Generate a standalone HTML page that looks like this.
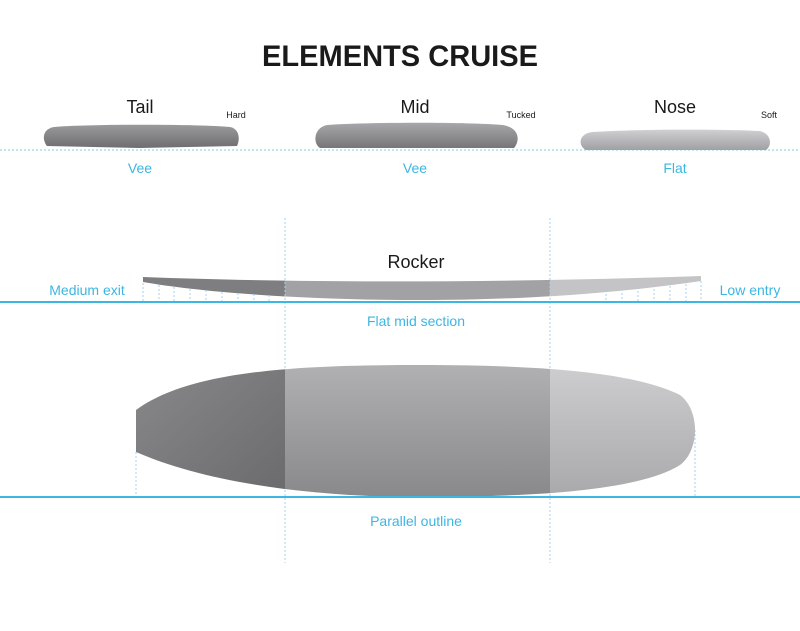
<!DOCTYPE html>
<html><head><meta charset="utf-8"><style>
html,body{margin:0;padding:0;background:#fff;}
svg{display:block;}
text{font-family:"Liberation Sans",sans-serif;}
</style></head><body>
<svg width="800" height="631" viewBox="0 0 800 631" xmlns="http://www.w3.org/2000/svg">
<defs>
<linearGradient id="g1" x1="0" y1="0" x2="0" y2="1"><stop offset="0" stop-color="#9a9a9d"/><stop offset="1" stop-color="#6e6e71"/></linearGradient>
<linearGradient id="g2" x1="0" y1="0" x2="0" y2="1"><stop offset="0" stop-color="#a8a8ab"/><stop offset="1" stop-color="#767679"/></linearGradient>
<linearGradient id="g3" x1="0" y1="0" x2="0" y2="1"><stop offset="0" stop-color="#d0d0d3"/><stop offset="1" stop-color="#a0a0a3"/></linearGradient>
<linearGradient id="ob" x1="0" y1="0" x2="1" y2="1"><stop offset="0" stop-color="#8a8a8d"/><stop offset="1" stop-color="#6a6a6d"/></linearGradient>
<linearGradient id="om" x1="0" y1="0" x2="0" y2="1"><stop offset="0" stop-color="#b2b2b5"/><stop offset="1" stop-color="#88888b"/></linearGradient>
<linearGradient id="on" x1="0" y1="0" x2="0" y2="1"><stop offset="0" stop-color="#cfcfd2"/><stop offset="1" stop-color="#a8a8ab"/></linearGradient>
<clipPath id="outl"><path d="M136 410 C190 370 300 365 420 365 C560 365 640 375 680 395 C700 410 700 450 680 465 C640 490 540 497 420 497 C300 497 200 480 136 452 Z"/></clipPath>
<clipPath id="rock"><path d="M143 277 C300 283 500 283 701 276 L701 281 C600 296 500 300 420 300 C300 300 200 292 143 282 Z"/></clipPath>
</defs>
<text x="400" y="66" text-anchor="middle" font-size="30" font-weight="bold" fill="#1a1a1a" textLength="276" lengthAdjust="spacingAndGlyphs">ELEMENTS CRUISE</text>

<line x1="0" y1="150" x2="800" y2="150" stroke="#7fcbe8" stroke-width="1" stroke-dasharray="2,2"/>
<path d="M54 127 C90 124 200 124 230 127 C240 129 240 140 237 146 L140 148 L47 146 C42 140 42 129 54 127 Z" fill="url(#g1)"/>
<path d="M327 125 C370 122 470 122 503 125 C520 128 520 141 514 148 L320 148 C313 144 313 128 327 125 Z" fill="url(#g2)"/>
<path d="M592 132 C640 129 720 129 760 131 C772 134 772 146 766 150 L586 150 C578 146 578 134 592 132 Z" fill="url(#g3)"/>
<text x="140" y="113" text-anchor="middle" font-size="18" fill="#1a1a1a">Tail</text>
<text x="415" y="113" text-anchor="middle" font-size="18" fill="#1a1a1a">Mid</text>
<text x="675" y="113" text-anchor="middle" font-size="18" fill="#1a1a1a">Nose</text>
<text x="236" y="118" text-anchor="middle" font-size="9" fill="#1a1a1a">Hard</text>
<text x="521" y="118" text-anchor="middle" font-size="9" fill="#1a1a1a">Tucked</text>
<text x="769" y="118" text-anchor="middle" font-size="9" fill="#1a1a1a">Soft</text>
<text x="140" y="173" text-anchor="middle" font-size="14" fill="#3cb6e3">Vee</text>
<text x="415" y="173" text-anchor="middle" font-size="14" fill="#3cb6e3">Vee</text>
<text x="675" y="173" text-anchor="middle" font-size="14" fill="#3cb6e3">Flat</text>

<text x="416" y="268" text-anchor="middle" font-size="18" fill="#1a1a1a">Rocker</text>
<g clip-path="url(#rock)">
<rect x="140" y="270" width="145" height="35" fill="#7e7e81"/>
<rect x="285" y="270" width="265" height="35" fill="#a2a2a5"/>
<rect x="550" y="270" width="155" height="35" fill="#c4c4c7"/>
</g>
<g stroke="#9fd6ec" stroke-width="1" stroke-dasharray="2,2">
<line x1="143" y1="283" x2="143" y2="302"/><line x1="159" y1="285" x2="159" y2="302"/><line x1="174" y1="287" x2="174" y2="302"/><line x1="190" y1="289" x2="190" y2="302"/><line x1="206" y1="290" x2="206" y2="302"/><line x1="222" y1="292" x2="222" y2="302"/><line x1="238" y1="293" x2="238" y2="302"/><line x1="254" y1="294" x2="254" y2="302"/><line x1="269" y1="295" x2="269" y2="302"/>
<line x1="606" y1="294" x2="606" y2="302"/><line x1="622" y1="293" x2="622" y2="302"/><line x1="638" y1="291" x2="638" y2="302"/><line x1="654" y1="289" x2="654" y2="302"/><line x1="670" y1="286" x2="670" y2="302"/><line x1="686" y1="284" x2="686" y2="302"/><line x1="701" y1="281" x2="701" y2="302"/>
<line x1="285" y1="218" x2="285" y2="563"/><line x1="550" y1="218" x2="550" y2="563"/>
<line x1="136" y1="452" x2="136" y2="497"/><line x1="695" y1="430" x2="695" y2="497"/>
</g>
<line x1="0" y1="302" x2="800" y2="302" stroke="#3cb6e3" stroke-width="2"/>
<text x="87" y="295" text-anchor="middle" font-size="14" fill="#3cb6e3">Medium exit</text>
<text x="750" y="295" text-anchor="middle" font-size="14" fill="#3cb6e3">Low entry</text>
<text x="416" y="326" text-anchor="middle" font-size="14" fill="#3cb6e3">Flat mid section</text>

<g clip-path="url(#outl)">
<rect x="130" y="360" width="155" height="140" fill="url(#ob)"/>
<rect x="285" y="360" width="265" height="140" fill="url(#om)"/>
<rect x="550" y="360" width="150" height="140" fill="url(#on)"/>
</g>
<line x1="0" y1="497" x2="800" y2="497" stroke="#3cb6e3" stroke-width="2"/>
<text x="416" y="526" text-anchor="middle" font-size="14" fill="#3cb6e3">Parallel outline</text>
</svg>
</body></html>
